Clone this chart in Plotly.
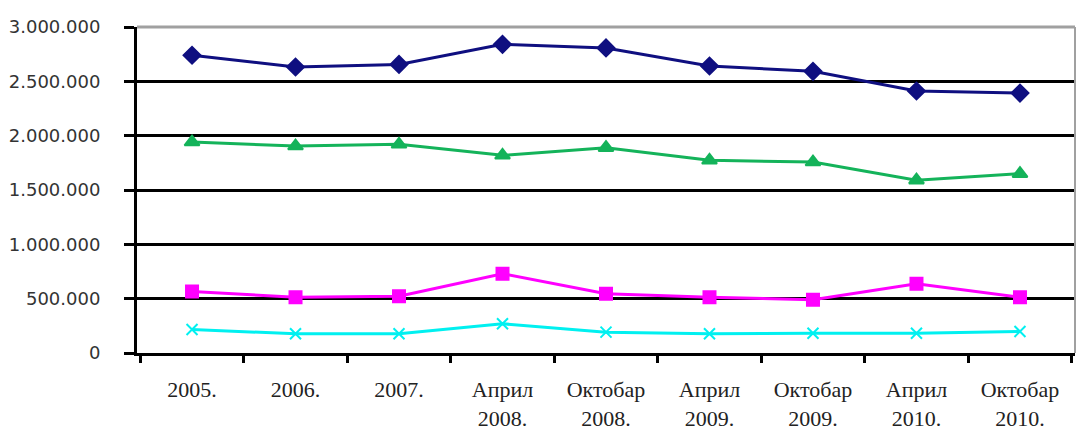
import plotly.graph_objects as go

# Reporting periods on the category axis
periods = ["2005.", "2006.", "2007.", "Април<br>2008.", "Октобар<br>2008.",
           "Април<br>2009.", "Октобар<br>2009.", "Април<br>2010.", "Октобар<br>2010."]

# Four series, one value per period
series_navy = [2740000, 2632000, 2656000, 2841000, 2807000, 2641000, 2592000, 2411000, 2392000]
series_green = [1941000, 1904000, 1920000, 1819000, 1889000, 1773000, 1757000, 1590000, 1650000]
series_magenta = [566000, 514000, 523000, 729000, 545000, 514000, 490000, 637000, 514000]
series_cyan = [216000, 177000, 177000, 269000, 192000, 177000, 182000, 182000, 198000]

y_ticks = [0, 500000, 1000000, 1500000, 2000000, 2500000, 3000000]

styles = [
    (series_navy, "#0f0f80", "diamond", 13),
    (series_green, "#14b35a", "triangle-up", 13),
    (series_magenta, "#ff00ff", "square", 12),
    (series_cyan, "#00f0f0", "x-thin-open", 11),
]

fig = go.Figure()
for values, color, symbol, size in styles:
    fig.add_trace(go.Scatter(
        x=periods, y=values, mode="lines+markers",
        line=dict(color=color, width=3),
        marker=dict(symbol=symbol, size=size, color=color,
                    line=dict(color=color, width=2)),
        showlegend=False,
    ))

fig.update_layout(
    width=1078, height=431,
    margin=dict(l=137, r=3, t=27, b=78),
    paper_bgcolor="white", plot_bgcolor="white",
    separators=",.",
    shapes=[
        dict(type="line", xref="paper", yref="paper", x0=0, x1=1, y0=1, y1=1,
             line=dict(color="#a0a0a0", width=3), layer="above"),
        dict(type="line", xref="paper", yref="paper", x0=1, x1=1, y0=0, y1=1,
             line=dict(color="#a0a0a0", width=2), layer="above"),
    ],
)

fig.update_xaxes(
    type="category", tickson="boundaries", automargin=False,
    showline=True, linecolor="black", linewidth=3,
    ticks="outside", ticklen=7, tickwidth=3, tickcolor="black",
    showgrid=False, ticklabelstandoff=15,
    tickfont=dict(family="Liberation Serif", size=22, color="#222"),
)
fig.update_yaxes(
    range=[0, 3000000], tickvals=y_ticks, tickformat=",d", automargin=False,
    showline=True, linecolor="black", linewidth=3,
    ticks="outside", ticklen=10, tickwidth=3, tickcolor="black",
    showgrid=True, gridcolor="black", gridwidth=3, zeroline=False,
    ticklabelstandoff=20,
    tickfont=dict(family="DejaVu Sans", size=18, color="#333"),
)

fig.write_html("out.html")
